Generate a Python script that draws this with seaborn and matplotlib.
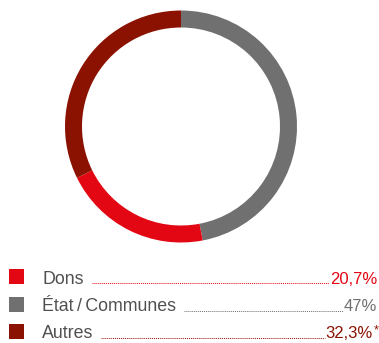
import matplotlib
matplotlib.use("Agg")
import matplotlib.pyplot as plt
from matplotlib.patches import Rectangle
from matplotlib.lines import Line2D
import seaborn as sns

sns.set_theme(style="white")
plt.rcParams["font.family"] = ["Liberation Sans", "DejaVu Sans"]

# =============================================================================
# DATA
labels = ["Dons", "État\u2009/\u2009Communes", "Autres"]
values = [20.7, 47.0, 32.3]
value_texts = ["20,7%", "47%", "32,3%*"]
pie_order = [1, 0, 2]            # clockwise from top: État, Dons, Autres

colors = sns.color_palette(["#e30613", "#707070", "#8b1200"])
label_color = "#505050"

W, H = 379, 343
fig = plt.figure(figsize=(W / 100, H / 100), dpi=100)

# donut ---------------------------------------------------------------------
cx, cy, r = 181, 126.5, 116      # [px]
ax = fig.add_axes([(cx - r) / W, 1 - (cy + r) / H, 2 * r / W, 2 * r / H])
ax.pie([values[i] for i in pie_order],
       colors=[colors[i] for i in pie_order],
       startangle=90, counterclock=False, radius=1,
       wedgeprops=dict(width=17 / r, linewidth=0))
ax.set_xlim(-1, 1)
ax.set_ylim(-1, 1)
ax.set_axis_off()

# legend --------------------------------------------------------------------
baselines = [283.5, 311, 338.5]  # [px from top]
renderer = fig.canvas.get_renderer()
for i, lab in enumerate(labels):
    yb = baselines[i]
    fig.patches.append(Rectangle((9 / W, 1 - (yb + 0.5) / H), 15 / W, 15 / H,
                                 transform=fig.transFigure, facecolor=colors[i],
                                 edgecolor="none"))
    t1 = fig.text(42 / W, 1 - yb / H, lab, fontsize=12.8, color=label_color,
                  va="baseline", ha="left")
    txt = value_texts[i].rstrip("*")
    xr = 377 if txt == value_texts[i] else 373
    t2 = fig.text(xr / W, 1 - yb / H, txt,
                  fontsize=12, color=colors[i], va="baseline", ha="right")
    if txt != value_texts[i]:
        fig.text(373.5 / W, 1 - (yb - 5) / H, "*", fontsize=9, color=colors[i],
                 va="baseline", ha="left")
    b1 = t1.get_window_extent(renderer)
    b2 = t2.get_window_extent(renderer)
    x0 = (b1.x1 + 8) / W
    x1 = (b2.x0 - 1) / W
    yl = 1 - (yb - 0.5) / H
    fig.lines.append(Line2D([x0, x1], [yl, yl], transform=fig.transFigure,
                            color=colors[i], linewidth=0.7,
                            linestyle=(0, (1, 1))))

fig.savefig("out.png", dpi=100)
